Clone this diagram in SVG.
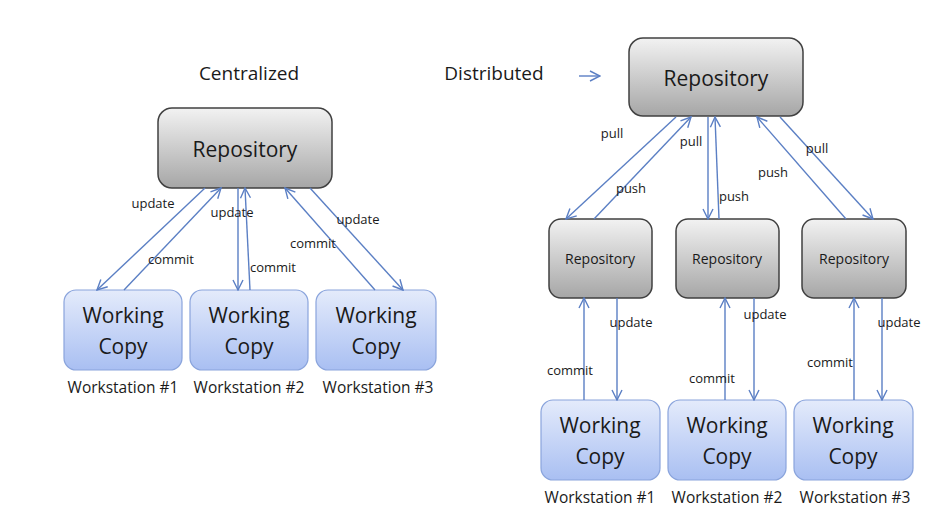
<svg xmlns="http://www.w3.org/2000/svg" width="935" height="517" viewBox="0 0 935 517">
<defs>
<linearGradient id="g" x1="0" y1="0" x2="0" y2="1"><stop offset="0" stop-color="#f2f2f2"/><stop offset="1" stop-color="#a6a6a6"/></linearGradient>
<linearGradient id="b" x1="0" y1="0" x2="0" y2="1"><stop offset="0" stop-color="#e4ebfb"/><stop offset="1" stop-color="#a9bff2"/></linearGradient>
<marker id="a" viewBox="0 0 12 12" refX="11" refY="6" markerWidth="12" markerHeight="12" markerUnits="userSpaceOnUse" orient="auto"><path d="M1,1 L11,6 L1,11" fill="none" stroke="#5b7fc4" stroke-width="1.4"/></marker>
</defs>
<style>
text{font-family:"Open Sans","Liberation Sans",sans-serif;fill:#1a1a1a;text-anchor:middle}
.r{fill:url(#g);stroke:#404040;stroke-width:1.5}
.w{fill:url(#b);stroke:#8aa4dc;stroke-width:1.2}
.big{font-size:21px}
.mid{font-size:14px}
.lab{font-size:13px}
.ws{font-size:15.5px}
.c line{stroke:#5b7fc4;stroke-width:1.4;marker-end:url(#a)}
</style>
<rect width="935" height="517" fill="#fff"/>
<text x="249" y="80" font-size="19">Centralized</text>
<text x="494" y="80" font-size="19">Distributed</text>
<g id="crepo"><rect class="r" x="158" y="108" width="174" height="80" rx="14"/><text class="big" x="245" y="157">Repository</text></g>
<g id="cw1"><rect class="w" x="64" y="290" width="118" height="80" rx="12"/><text class="big" x="123" y="323">Working</text><text class="big" x="123" y="354">Copy</text><text class="ws" x="123" y="393">Workstation #1</text></g>
<g id="cw2"><rect class="w" x="190" y="290" width="118" height="80" rx="12"/><text class="big" x="249" y="323">Working</text><text class="big" x="249" y="354">Copy</text><text class="ws" x="249" y="393">Workstation #2</text></g>
<g id="cw3"><rect class="w" x="316" y="290" width="120" height="80" rx="12"/><text class="big" x="376" y="323">Working</text><text class="big" x="376" y="354">Copy</text><text class="ws" x="378" y="393">Workstation #3</text></g>
<g id="drepo"><rect class="r" x="629" y="38" width="174" height="78" rx="14"/><text class="big" x="716" y="86">Repository</text></g>
<g id="dr1"><rect class="r" x="549" y="219" width="103" height="79" rx="12"/><text class="mid" x="600" y="264">Repository</text></g>
<g id="dr2"><rect class="r" x="676" y="219" width="103" height="79" rx="12"/><text class="mid" x="727" y="264">Repository</text></g>
<g id="dr3"><rect class="r" x="802" y="219" width="104" height="79" rx="12"/><text class="mid" x="854" y="264">Repository</text></g>
<g id="dw1"><rect class="w" x="541" y="400" width="119" height="80" rx="12"/><text class="big" x="600" y="433">Working</text><text class="big" x="600" y="464">Copy</text><text class="ws" x="600" y="503">Workstation #1</text></g>
<g id="dw2"><rect class="w" x="668" y="400" width="118" height="80" rx="12"/><text class="big" x="727" y="433">Working</text><text class="big" x="727" y="464">Copy</text><text class="ws" x="727" y="503">Workstation #2</text></g>
<g id="dw3"><rect class="w" x="794" y="400" width="119" height="80" rx="12"/><text class="big" x="853" y="433">Working</text><text class="big" x="853" y="464">Copy</text><text class="ws" x="855" y="503">Workstation #3</text></g>
<g class="c" id="connectors">
<line x1="579" y1="76" x2="600" y2="76"/>
<line x1="205" y1="188" x2="97" y2="290"/>
<line x1="124" y1="290" x2="221" y2="188"/>
<line x1="238" y1="188" x2="238" y2="290"/>
<line x1="250" y1="290" x2="245" y2="188"/>
<line x1="375" y1="290" x2="285" y2="188"/>
<line x1="310" y1="188" x2="403" y2="290"/>
<line x1="676" y1="117" x2="566" y2="219"/>
<line x1="594" y1="219" x2="691" y2="117"/>
<line x1="708" y1="117" x2="708" y2="219"/>
<line x1="719" y1="219" x2="715" y2="117"/>
<line x1="846" y1="219" x2="757" y2="117"/>
<line x1="780" y1="117" x2="873" y2="219"/>
<line x1="584" y1="400" x2="584" y2="298"/>
<line x1="617" y1="298" x2="617" y2="400"/>
<line x1="725" y1="400" x2="725" y2="298"/>
<line x1="754" y1="298" x2="754" y2="400"/>
<line x1="854" y1="400" x2="854" y2="298"/>
<line x1="882" y1="298" x2="882" y2="400"/>
</g>
<g class="lab">
<text class="lab" x="153" y="208">update</text>
<text class="lab" x="171" y="264">commit</text>
<text class="lab" x="232" y="217">update</text>
<text class="lab" x="273" y="272">commit</text>
<text class="lab" x="313" y="248">commit</text>
<text class="lab" x="358" y="224">update</text>
<text class="lab" x="612" y="138">pull</text>
<text class="lab" x="691" y="146">pull</text>
<text class="lab" x="631" y="193">push</text>
<text class="lab" x="734" y="201">push</text>
<text class="lab" x="773" y="177">push</text>
<text class="lab" x="817" y="153">pull</text>
<text class="lab" x="631" y="327">update</text>
<text class="lab" x="570" y="375">commit</text>
<text class="lab" x="765" y="319">update</text>
<text class="lab" x="712" y="383">commit</text>
<text class="lab" x="899" y="327">update</text>
<text class="lab" x="830" y="367">commit</text>
</g>
</svg>
